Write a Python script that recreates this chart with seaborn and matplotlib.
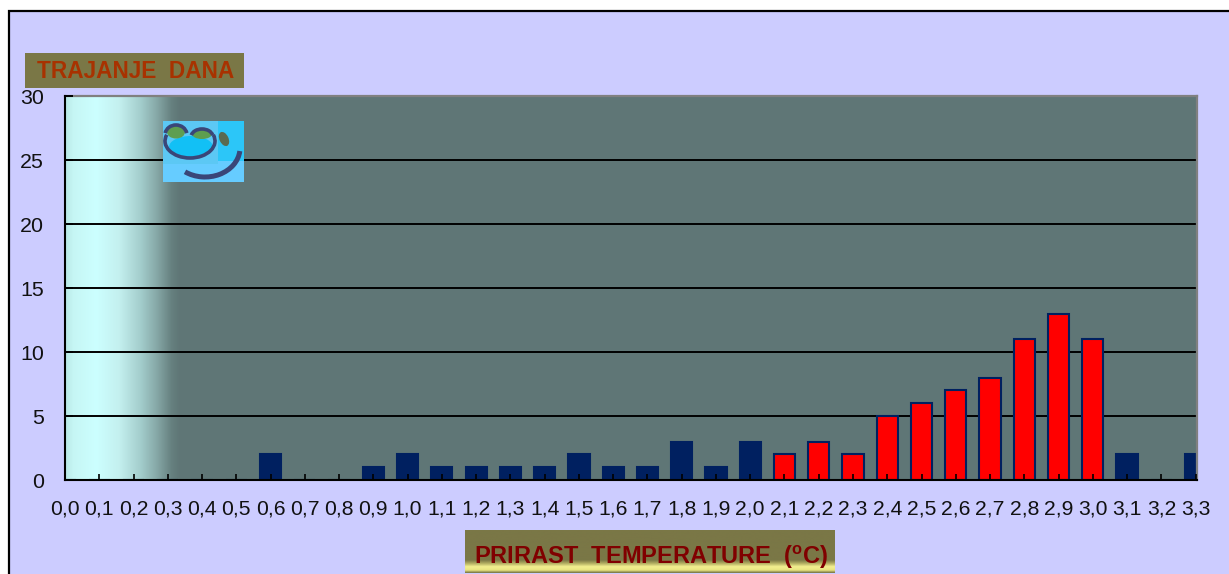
# Import Statements
import numpy as np
import pandas as pd
import matplotlib
matplotlib.use('Agg')
import matplotlib.pyplot as plt
from matplotlib.colors import LinearSegmentedColormap
from matplotlib.patches import Rectangle, Arc, Ellipse
import seaborn as sns

# Chart data
categories = ['0,0', '0,1', '0,2', '0,3', '0,4', '0,5', '0,6', '0,7', '0,8', '0,9', '1,0', '1,1',
              '1,2', '1,3', '1,4', '1,5', '1,6', '1,7', '1,8', '1,9', '2,0', '2,1', '2,2', '2,3',
              '2,4', '2,5', '2,6', '2,7', '2,8', '2,9', '3,0', '3,1', '3,2', '3,3']
days = [0, 0, 0, 0, 0, 0, 2, 0, 0, 1, 2, 1, 1, 1, 1, 2, 1, 1, 3, 1, 3, 2, 3, 2, 5, 6, 7, 8, 11, 13, 11, 2, 0, 2]
groups = ['plava'] * 21 + ['crvena'] * 10 + ['plava'] * 3
yticks = [0, 5, 10, 15, 20, 25, 30]

y_title = 'TRAJANJE  DANA'
x_title = r'PRIRAST  TEMPERATURE  ($\mathbf{^{o}C}$)'

W, H = 1229, 574
plt.rcParams['font.family'] = ['Liberation Sans', 'DejaVu Sans']
plt.rcParams['mathtext.fontset'] = 'custom'
plt.rcParams['mathtext.bf'] = 'Liberation Sans:bold'
plt.rcParams['mathtext.rm'] = 'Liberation Sans'

df = pd.DataFrame({'temp': categories, 'days': days, 'group': groups})

fig = plt.figure(figsize=(W / 100, H / 100), dpi=100, facecolor='white')

# Lilac panel with black frame, pixel coordinates
back = fig.add_axes([0, 0, 1, 1], zorder=0)
back.set_xlim(0, W)
back.set_ylim(H, 0)
back.axis('off')
back.add_patch(Rectangle((9, 11), W + 20, H + 20, facecolor='#CCCCFF', edgecolor='black', linewidth=1.6))

# Main plot area
ax = fig.add_axes([65 / W, 1 - 480 / H, 1132 / W, 384 / H], zorder=1)
ax.set_facecolor('#5F7676')

# Gradient on the left of the plot area
stops = [(0.0, '#B8E8E6'), (0.07, '#C6F6F4'), (0.27, '#CCFFFF'), (0.47, '#C4F0EF'), (0.66, '#A3CDCC'),
         (0.80, '#86A8A7'), (0.93, '#66807F'), (1.0, '#5F7676')]
cmap = LinearSegmentedColormap.from_list('fade', stops)
ax.imshow(np.linspace(0, 1, 256).reshape(1, -1), cmap=cmap, aspect='auto', extent=(0, 3.35, 0, 30), zorder=0)

sns.barplot(data=df, x='temp', y='days', hue='group', order=categories, dodge=False, saturation=1,
            palette={'plava': '#002060', 'crvena': '#FF0000'}, width=0.62, legend=False,
            edgecolor='#002060', linewidth=1.5, zorder=2, ax=ax)

ax.set_xlim(0, 33.04)
ax.set_ylim(0, 30)
ax.set_yticks(yticks)
ax.set_xticks(range(len(categories)))
ax.set_xticklabels(categories)
ax.set_xlabel('')
ax.set_ylabel('')
for y in yticks[1:-1]:
    ax.axhline(y, color='black', linewidth=1.4, zorder=1)
ax.set_axisbelow(False)
ax.tick_params(axis='x', direction='in', length=4.5, width=1.2, color='black', labelsize=15.2, pad=14,
               labelcolor='#111111')
ax.tick_params(axis='y', direction='in', length=6, width=1.4, color='black', labelsize=15.4, pad=15,
               labelcolor='#111111')
for side in ['left', 'bottom']:
    ax.spines[side].set_color('black')
    ax.spines[side].set_linewidth(1.5)
    ax.spines[side].set_zorder(5)
for side in ['top', 'right']:
    ax.spines[side].set_color('#808080')
    ax.spines[side].set_linewidth(1.6)

# Overlay: title boxes and logo, pixel coordinates
top = fig.add_axes([0, 0, 1, 1], zorder=2)
top.patch.set_alpha(0)

top.add_patch(Rectangle((25, 53), 219, 35, facecolor='#7A7746', edgecolor='none'))
top.text(136, 71, y_title, color='#A83200', fontsize=16.3, fontweight='bold', ha='center', va='center')

band = LinearSegmentedColormap.from_list('band', [(0, '#7A7746'), (0.70, '#7A7746'), (0.78, '#B0AC60'),
                                                  (0.86, '#F4F090'), (0.94, '#E8E480'), (1.0, '#7A7746')])
top.imshow(np.linspace(0, 1, 64).reshape(-1, 1), cmap=band, aspect='auto', extent=(465, 835, 573, 530))
top.text(651, 557, x_title, color='#800000', fontsize=17, fontweight='bold', ha='center', va='center')

# Logo
logo_dark = '#3A4678'
top.add_patch(Rectangle((163, 121), 81, 61, facecolor='#66CCFF', edgecolor='none'))
top.add_patch(Rectangle((218, 121), 26, 40, facecolor='#2CC6F8', edgecolor='none'))
top.add_patch(Rectangle((163, 121), 55, 43, facecolor='#5CC8F4', edgecolor='none'))
top.add_patch(Ellipse((191, 147), 44, 22, facecolor='#12C0F5', edgecolor='none'))
top.add_patch(Ellipse((176, 132), 18, 13, facecolor='#5E9E50', edgecolor='none'))
top.add_patch(Ellipse((202, 134), 20, 10, facecolor='#5E9E50', edgecolor='none'))
top.add_patch(Arc((190, 141), 50, 34, theta1=-15, theta2=195, color=logo_dark, linewidth=2.6))
top.add_patch(Arc((176, 135), 22, 20, theta1=190, theta2=350, color=logo_dark, linewidth=2.6))
top.add_patch(Arc((202, 137), 22, 16, theta1=190, theta2=350, color=logo_dark, linewidth=2.6))
top.add_patch(Arc((205, 148), 70, 58, theta1=5, theta2=130, color=logo_dark, linewidth=3.6))
top.add_patch(Ellipse((224, 139), 9, 15, angle=-25, facecolor='#5A6A50', edgecolor='none'))
top.set_xlim(0, W)
top.set_ylim(H, 0)
top.axis('off')

fig.savefig('out.png', dpi=100)
